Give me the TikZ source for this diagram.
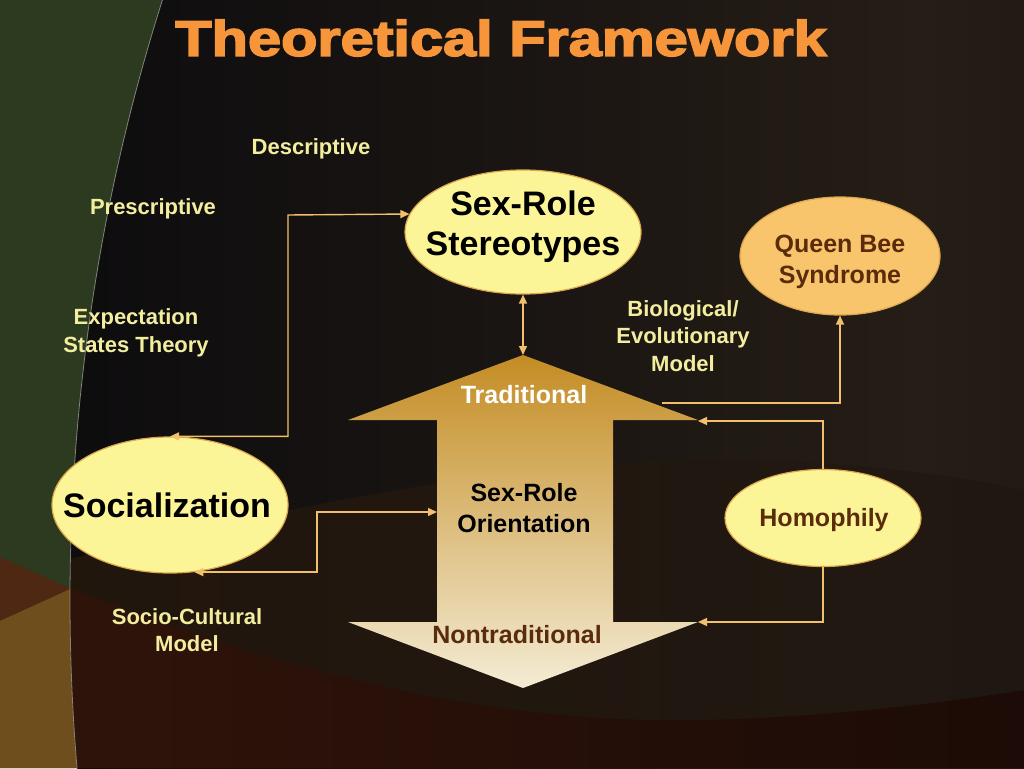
\documentclass[tikz,border=0pt]{standalone}
\usepackage{fontspec}
\setmainfont{Liberation Sans}
\newfontfamily\titlefont[FakeBold=3]{Liberation Sans Bold}
\usetikzlibrary{arrows.meta,shapes.geometric}
\definecolor{titleC}{HTML}{F7953B}
\definecolor{labelC}{HTML}{F3EE9E}
\definecolor{ellY}{HTML}{FCF597}
\definecolor{ellO}{HTML}{F8C46C}
\definecolor{ellEdge}{HTML}{DCA64A}
\definecolor{connC}{HTML}{F2C06A}
\definecolor{brownT}{HTML}{5A2C0C}
\definecolor{greenL}{HTML}{2C3A20}
\definecolor{brownW}{HTML}{4E2812}
\definecolor{orangeB}{HTML}{6E4E1D}
\definecolor{darkL}{HTML}{07080C}
\definecolor{darkR}{HTML}{251D16}
\definecolor{darkE}{HTML}{0A0807}
\definecolor{horL}{HTML}{26180C}
\definecolor{horR}{HTML}{1F1812}
\definecolor{botL}{HTML}{30140A}
\definecolor{botR}{HTML}{1C0B06}
\definecolor{arrTop}{HTML}{C48C24}
\definecolor{arrMid}{HTML}{E0C07E}
\definecolor{arrBot}{HTML}{F4ECD4}
\pgfdeclarehorizontalshading{bgshade}{100bp}{color(0bp)=(darkL); color(25bp)=(darkL!85!darkR); color(70bp)=(darkR); color(88bp)=(darkR!55!darkE); color(100bp)=(darkE)}
\begin{document}
\begin{tikzpicture}[x=1pt,y=-1pt,
  lab/.style={font=\bfseries\fontsize{22}{27.5}\selectfont, text=labelC, align=center, inner sep=0pt},
  inner/.style={font=\bfseries\fontsize{25}{30.5}\selectfont, align=center, inner sep=0pt},
  big/.style={font=\bfseries\fontsize{34}{40}\selectfont, align=center, inner sep=0pt, text=black},
  oval/.style={ellipse, draw=ellEdge, line width=1.2pt, inner sep=0pt},
  conn/.style={draw=connC, line width=1.4pt},
  both/.style={conn, {Triangle[length=9pt,width=8pt]}-{Triangle[length=9pt,width=8pt]}},
  fwd/.style={conn, -{Triangle[length=9pt,width=8pt]}}]
\useasboundingbox (0,0) rectangle (1024,768);
% ---------- background ----------
\fill[greenL] (0,0) rectangle (1024,768);
\fill[brownW] (0,557) -- (90,597) -- (90,768) -- (0,768) -- cycle;
\fill[orangeB] (0,621) -- (90,580) -- (90,768) -- (0,768) -- cycle;
\begin{scope}
  \clip (2052,600) circle (1982);
  \shade[shading=bgshade] (0,0) rectangle (1024,768);
  \shade[left color=horL, right color=horR, opacity=0.85]
    (40,566) .. controls (300,505) and (500,462) .. (700,460)
    .. controls (850,458) and (980,480) .. (1024,490) -- (1024,768) -- (0,768) -- cycle;
  \shade[left color=botL, right color=botR]
    (60,584) .. controls (250,660) and (450,716) .. (650,720)
    .. controls (800,722) and (950,702) .. (1024,690) -- (1024,768) -- (0,768) -- cycle;
\end{scope}
\draw[white!60!greenL, line width=0.8pt, opacity=0.7] (2052,600) circle (1982);
% ---------- title ----------
\node[font=\titlefont\fontsize{50}{56}\selectfont, text=titleC, inner sep=0pt] (title) at (501,38) {\scalebox{1.19}[1]{Theoretical Framework}};
% ---------- central double arrow ----------
\shade[top color=arrTop, middle color=arrMid, bottom color=arrBot]
  (523,355) -- (698,420) -- (613,420) -- (613,622) -- (698,622) -- (523,688)
  -- (348,622) -- (437,622) -- (437,420) -- (348,420) -- cycle;
\coordinate (trTip) at (523,355);
\coordinate (orL) at (437,512);
\coordinate (trR) at (698,421);
\coordinate (ntR) at (698,622);
\coordinate (bioS) at (662,403);
\node[inner, text=white] (trad) at (524,395) {Traditional};
\node[inner, text=black] (orient) at (524,508) {Sex-Role\\Orientation};
\node[inner, text=brownT] (nontrad) at (517,635) {Nontraditional};
% ---------- ellipses ----------
\node[oval, fill=ellY, minimum width=236pt, minimum height=124pt] (ster) at (523,232) {};
\node[big] (sterT) at (523,227) {Sex-Role\\Stereotypes};
\node[oval, fill=ellO, minimum width=200pt, minimum height=118pt] (queen) at (840,256) {};
\node[inner, text=brownT] (queenT) at (840,262) {Queen Bee\\Syndrome};
\node[oval, fill=ellY, minimum width=236pt, minimum height=136pt] (soc) at (170,505) {};
\node[big] (socT) at (167,505) {Socialization};
\node[oval, fill=ellY, minimum width=196pt, minimum height=97pt] (homo) at (823,518) {};
\node[inner, text=brownT] (homoT) at (824,520) {Homophily};
% ---------- labels ----------
\node[lab] (desc) at (311,149) {Descriptive};
\node[lab] (presc) at (153,209) {Prescriptive};
\node[lab] (expect) at (136,333) {Expectation\\States Theory};
\node[lab] (socio) at (187,630) {Socio-Cultural\\Model};
\node[lab] (bio) at (683,336) {Biological/\\Evolutionary\\Model};
% ---------- connectors ----------
\draw[both] (soc.north) -| (288,215) -- (ster.171);
\draw[both] (soc.-70) -| (317,512) -- (orL);
\draw[both] (ster.south) -- (trTip);
\draw[fwd] (bioS) -| (queen.south);
\draw[fwd] (homo.north) |- (trR);
\draw[fwd] (homo.south) |- (ntR);
\end{tikzpicture}
\end{document}
